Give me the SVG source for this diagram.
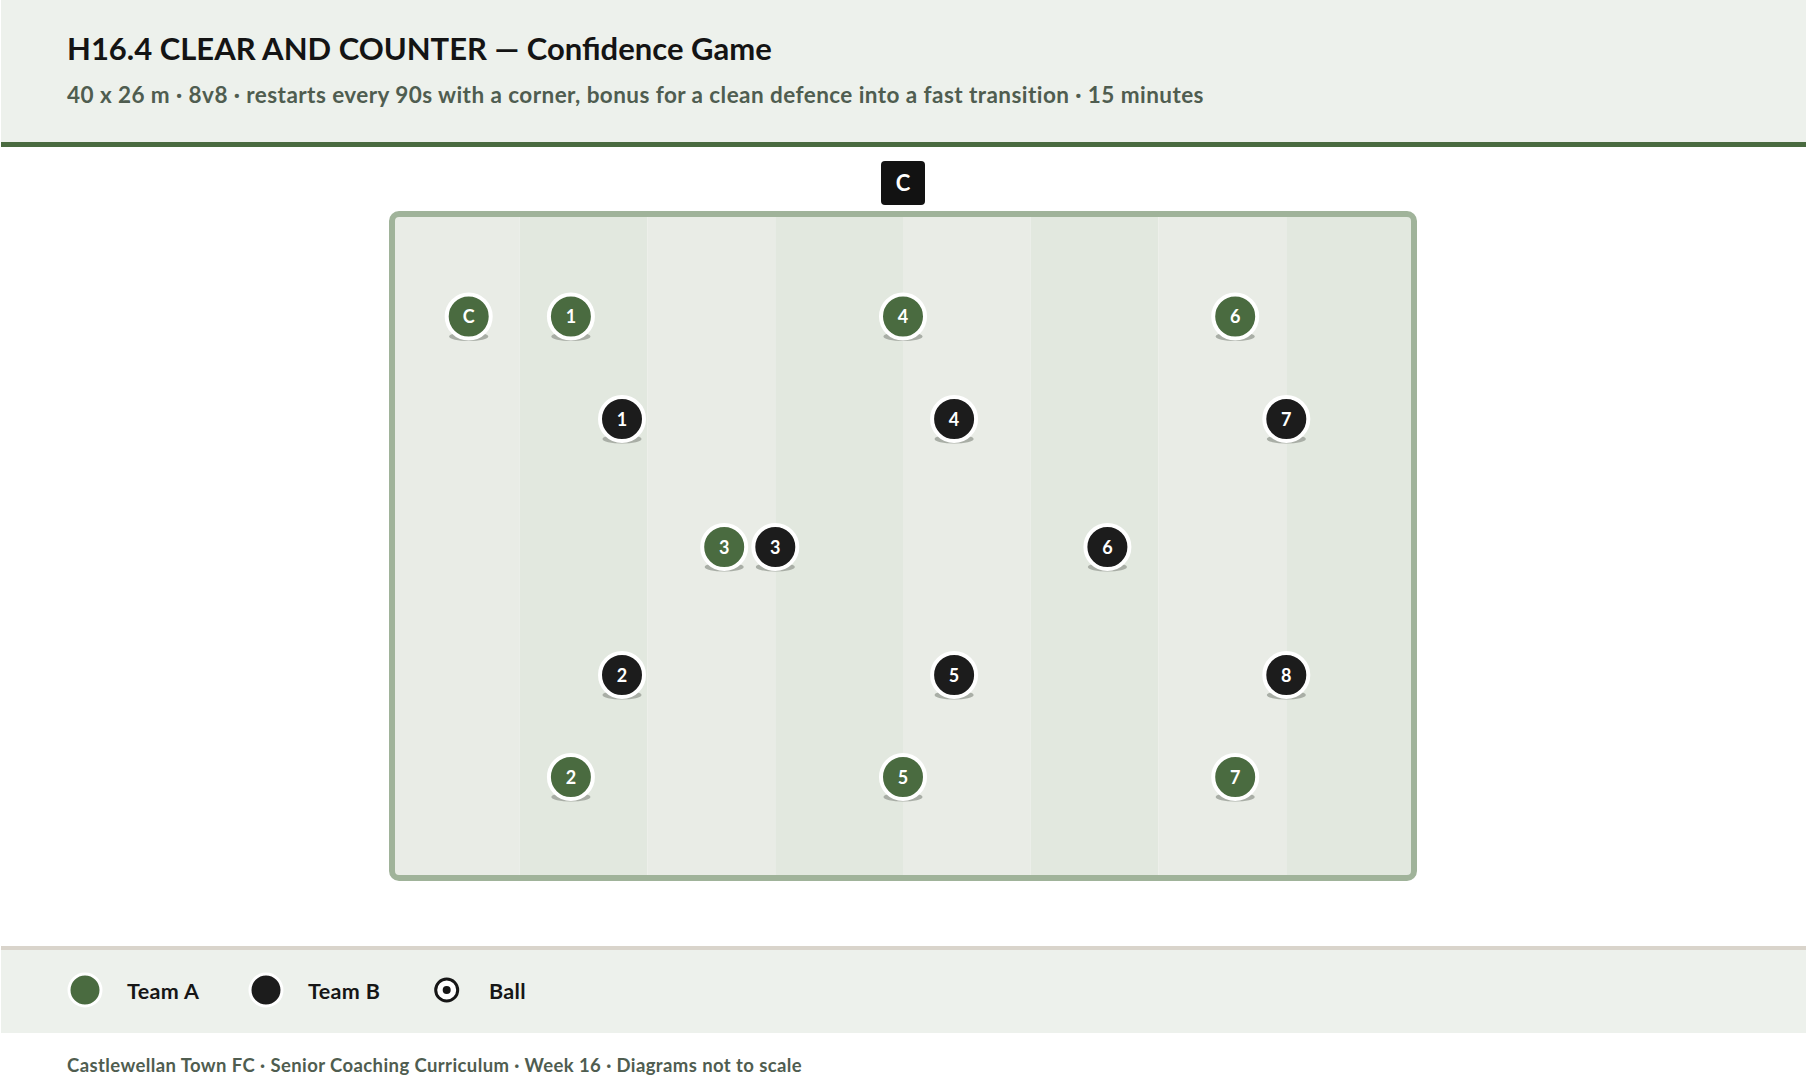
<svg xmlns="http://www.w3.org/2000/svg" width="1806" height="1090" viewBox="0 0 1806 1090">
<defs>
<style>
.title{font-family:Lato,"Liberation Sans",sans-serif;font-weight:700;font-size:31px;fill:#141414}
.sub{font-family:Lato,"Liberation Sans",sans-serif;font-weight:700;font-size:22.5px;letter-spacing:0.44px;fill:#4f5d50}
.foot{font-family:Lato,"Liberation Sans",sans-serif;font-weight:700;font-size:18.5px;letter-spacing:0.4px;fill:#4f5d50}
.leg{font-family:Lato,"Liberation Sans",sans-serif;font-weight:700;font-size:21.5px;letter-spacing:0.35px;fill:#161616}
.lbl{font-family:Lato,"Liberation Sans",sans-serif;font-weight:700;font-size:18px;fill:#ffffff;text-anchor:middle}
.sa{fill:#4a6b40;stroke:#ffffff;stroke-width:4}
.sb{fill:#1c1c1c;stroke:#ffffff;stroke-width:4}
.sh{fill:#a9aea6}
.lt{fill:#e9ece6}
.dk{fill:#e2e8df}
</style>
</defs>
<rect x="0" y="0" width="1806" height="1090" fill="#ffffff"/>
<g id="header">
<rect x="1" y="0" width="1805" height="142" fill="#edf1ec"/>
<rect x="1" y="142" width="1805" height="5" fill="#4a6b40"/>
<text class="title" x="67" y="60">H16.4 CLEAR AND COUNTER — Confidence Game</text>
<text class="sub" x="67" y="103">40 x 26 m · 8v8 · restarts every 90s with a corner, bonus for a clean defence into a fast transition · 15 minutes</text>
</g>
<g id="coach-box">
<rect x="881" y="161" width="44" height="44" rx="4" fill="#121212"/>
<text class="lbl" x="903" y="191" style="font-size:22px">C</text>
</g>
<g id="pitch">
<rect class="lt" x="392" y="214" width="127.75" height="664"/>
<rect class="dk" x="519.75" y="214" width="127.75" height="664"/>
<rect class="lt" x="647.5" y="214" width="127.75" height="664"/>
<rect class="dk" x="775.25" y="214" width="127.75" height="664"/>
<rect class="lt" x="903" y="214" width="127.75" height="664"/>
<rect class="dk" x="1030.75" y="214" width="127.75" height="664"/>
<rect class="lt" x="1158.5" y="214" width="127.75" height="664"/>
<rect class="dk" x="1286.25" y="214" width="127.75" height="664"/>
<rect x="392" y="214" width="1022" height="664" rx="7" fill="none" stroke="#a0b39a" stroke-width="6"/>
</g>
<g id="connectors"></g>
<g id="a-coach"><ellipse class="sh" cx="468.7" cy="336.5" rx="19.5" ry="4.5"/><circle class="sa" cx="468.7" cy="316.5" r="22"/><text class="lbl" x="468.7" y="323">C</text></g>
<g id="a1"><ellipse class="sh" cx="570.9" cy="336.5" rx="19.5" ry="4.5"/><circle class="sa" cx="570.9" cy="316.5" r="22"/><text class="lbl" x="570.9" y="323">1</text></g>
<g id="a4"><ellipse class="sh" cx="903" cy="336.5" rx="19.5" ry="4.5"/><circle class="sa" cx="903" cy="316.5" r="22"/><text class="lbl" x="903" y="323">4</text></g>
<g id="a6"><ellipse class="sh" cx="1235.2" cy="336.5" rx="19.5" ry="4.5"/><circle class="sa" cx="1235.2" cy="316.5" r="22"/><text class="lbl" x="1235.2" y="323">6</text></g>
<g id="b1"><ellipse class="sh" cx="622" cy="439" rx="19.5" ry="4.5"/><circle class="sb" cx="622" cy="419" r="22"/><text class="lbl" x="622" y="425.5">1</text></g>
<g id="b4"><ellipse class="sh" cx="954.1" cy="439" rx="19.5" ry="4.5"/><circle class="sb" cx="954.1" cy="419" r="22"/><text class="lbl" x="954.1" y="425.5">4</text></g>
<g id="b7"><ellipse class="sh" cx="1286.3" cy="439" rx="19.5" ry="4.5"/><circle class="sb" cx="1286.3" cy="419" r="22"/><text class="lbl" x="1286.3" y="425.5">7</text></g>
<g id="a3"><ellipse class="sh" cx="724.2" cy="567" rx="19.5" ry="4.5"/><circle class="sa" cx="724.2" cy="547" r="22"/><text class="lbl" x="724.2" y="553.5">3</text></g>
<g id="b3"><ellipse class="sh" cx="775.3" cy="567" rx="19.5" ry="4.5"/><circle class="sb" cx="775.3" cy="547" r="22"/><text class="lbl" x="775.3" y="553.5">3</text></g>
<g id="b6"><ellipse class="sh" cx="1107.4" cy="567" rx="19.5" ry="4.5"/><circle class="sb" cx="1107.4" cy="547" r="22"/><text class="lbl" x="1107.4" y="553.5">6</text></g>
<g id="b2"><ellipse class="sh" cx="622" cy="695" rx="19.5" ry="4.5"/><circle class="sb" cx="622" cy="675" r="22"/><text class="lbl" x="622" y="681.5">2</text></g>
<g id="b5"><ellipse class="sh" cx="954.1" cy="695" rx="19.5" ry="4.5"/><circle class="sb" cx="954.1" cy="675" r="22"/><text class="lbl" x="954.1" y="681.5">5</text></g>
<g id="b8"><ellipse class="sh" cx="1286.3" cy="695" rx="19.5" ry="4.5"/><circle class="sb" cx="1286.3" cy="675" r="22"/><text class="lbl" x="1286.3" y="681.5">8</text></g>
<g id="a2"><ellipse class="sh" cx="570.9" cy="797" rx="19.5" ry="4.5"/><circle class="sa" cx="570.9" cy="777" r="22"/><text class="lbl" x="570.9" y="783.5">2</text></g>
<g id="a5"><ellipse class="sh" cx="903" cy="797" rx="19.5" ry="4.5"/><circle class="sa" cx="903" cy="777" r="22"/><text class="lbl" x="903" y="783.5">5</text></g>
<g id="a7"><ellipse class="sh" cx="1235.2" cy="797" rx="19.5" ry="4.5"/><circle class="sa" cx="1235.2" cy="777" r="22"/><text class="lbl" x="1235.2" y="783.5">7</text></g>
<g id="legend">
<rect x="1" y="946" width="1805" height="4" fill="#d9d4cb"/>
<rect x="1" y="950" width="1805" height="83" fill="#edf1ec"/>
<circle cx="85" cy="990" r="16" fill="#4a6b40" stroke="#ffffff" stroke-width="3"/>
<text class="leg" x="127" y="999">Team A</text>
<circle cx="266" cy="990" r="16" fill="#1c1c1c" stroke="#ffffff" stroke-width="3"/>
<text class="leg" x="308" y="999">Team B</text>
<circle cx="446.7" cy="990" r="11" fill="#ffffff" stroke="#161616" stroke-width="3"/>
<circle cx="446.7" cy="990" r="4" fill="#161616"/>
<text class="leg" x="489" y="999">Ball</text>
</g>
<g id="footer">
<text class="foot" x="67" y="1071.5">Castlewellan Town FC · Senior Coaching Curriculum · Week 16 · Diagrams not to scale</text>
</g>
</svg>
